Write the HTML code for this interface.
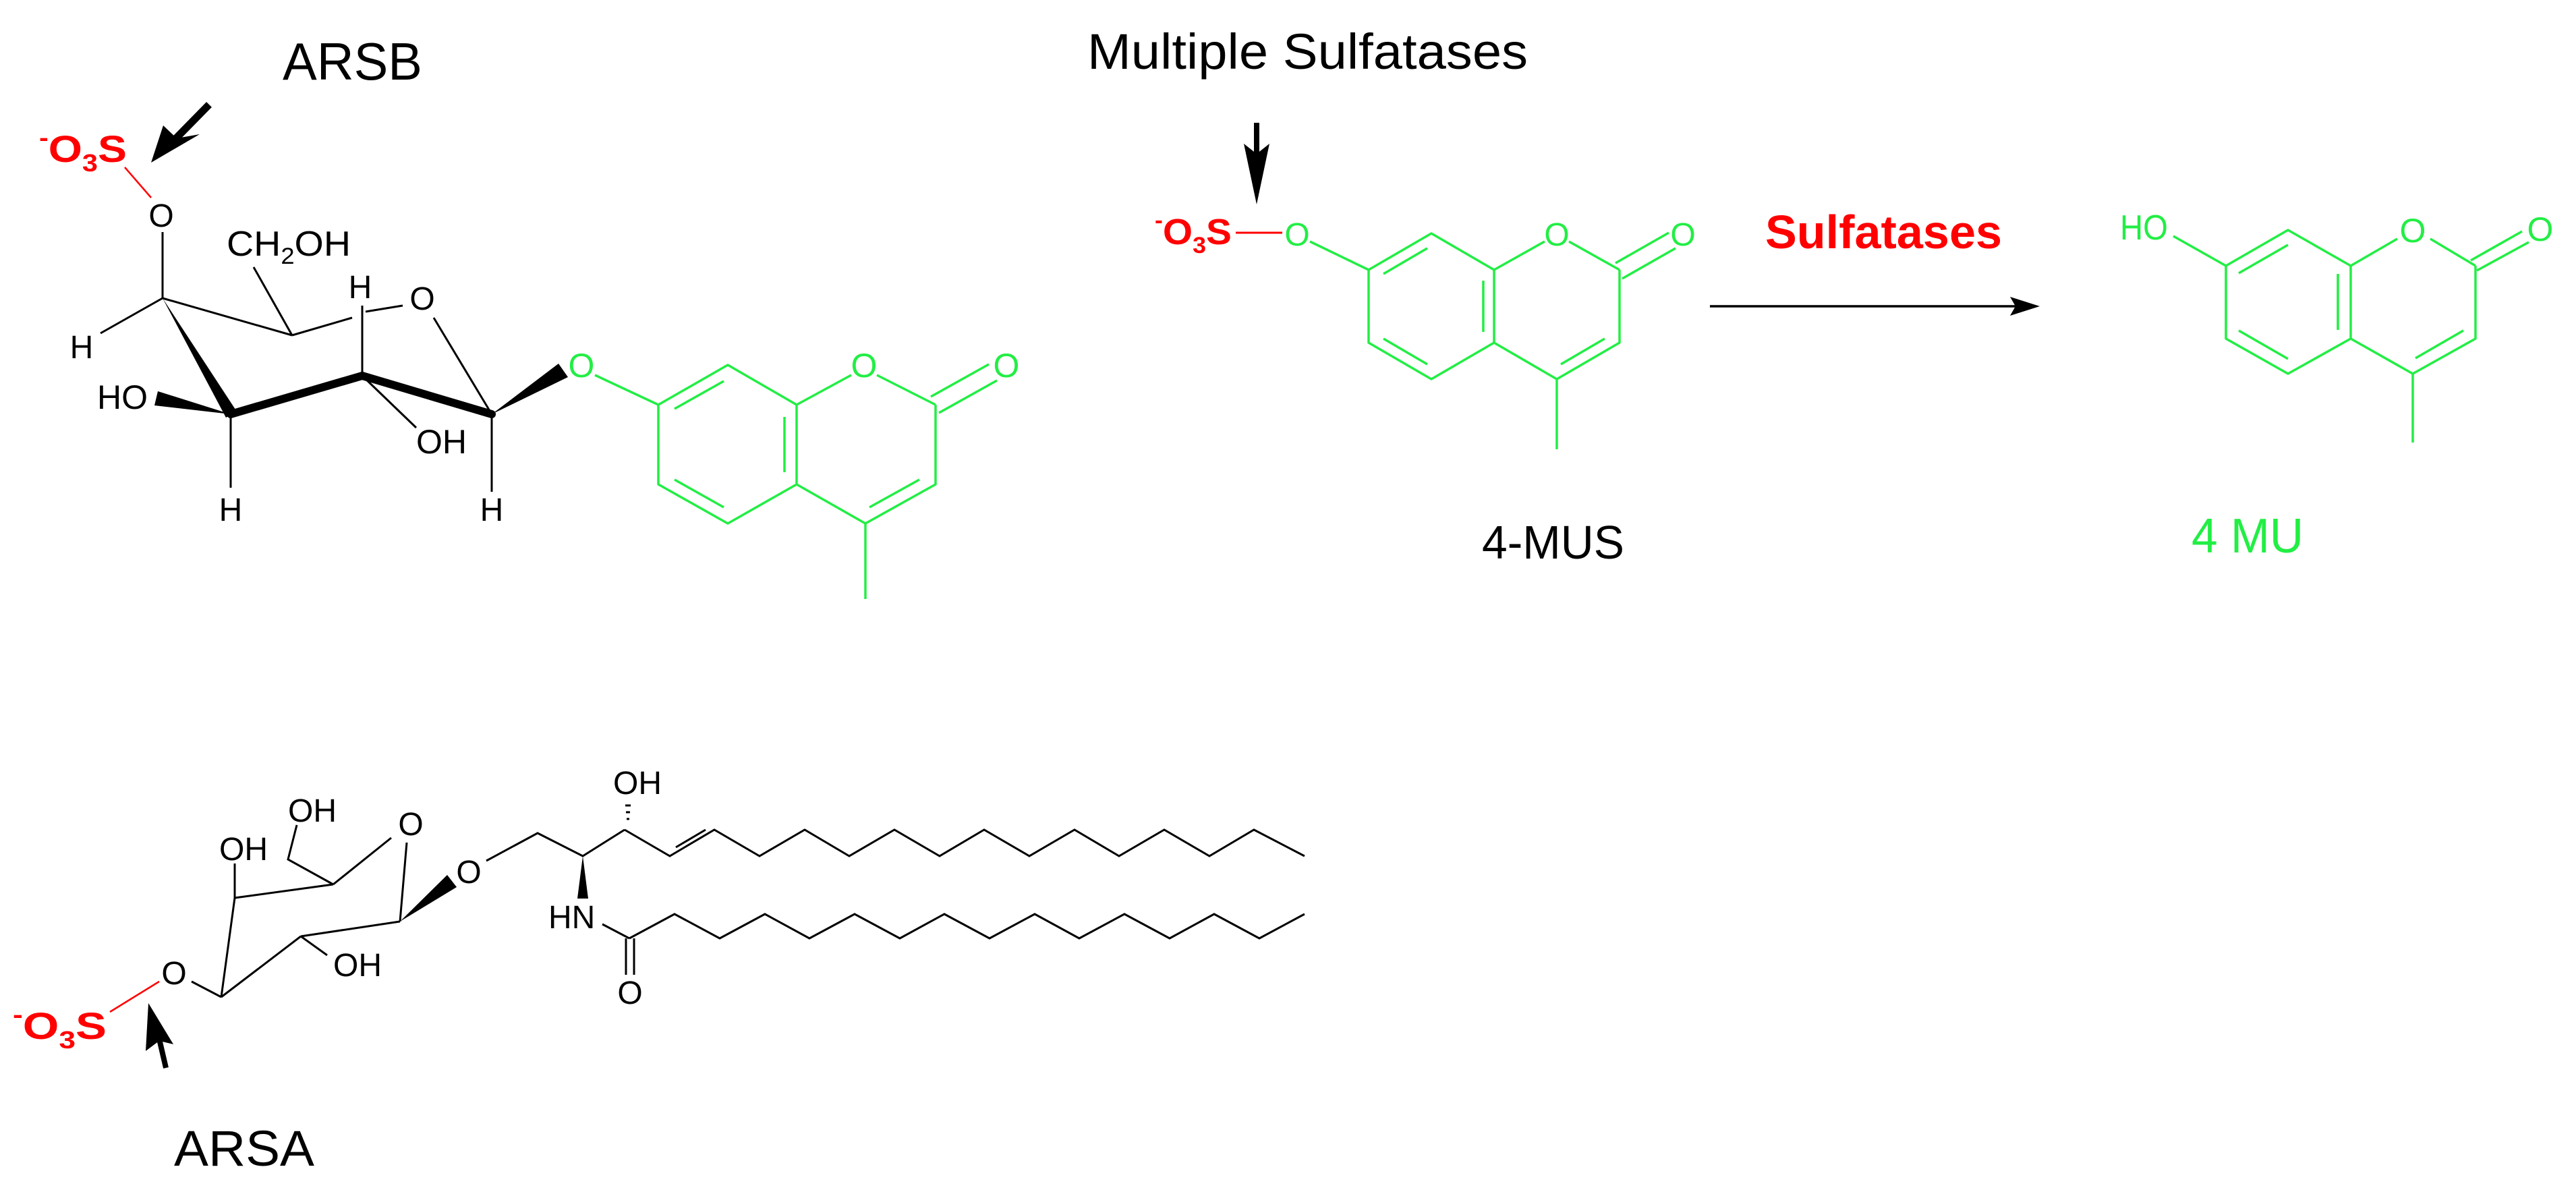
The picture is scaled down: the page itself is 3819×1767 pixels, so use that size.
<!DOCTYPE html>
<html><head><meta charset="utf-8"><style>
html,body{margin:0;padding:0;background:#fff;}
svg{display:block;}
text{font-family:"Liberation Sans",Arial,sans-serif;}
</style></head><body>
<svg width="3819" height="1767" viewBox="0 0 3819 1767" xmlns="http://www.w3.org/2000/svg">
<rect width="3819" height="1767" fill="#fff"/>

<!-- ===== ARSB molecule ===== -->
<text x="419" y="118" font-size="78" textLength="207" lengthAdjust="spacingAndGlyphs" fill="#000">ARSB</text>
<line x1="310" y1="155" x2="258" y2="208" stroke="#000" stroke-width="11"/>
<polygon points="224,241 242,186 262,205 296,199" fill="#000"/>
<text x="58" y="240" font-size="56" font-weight="bold" fill="#f00" textLength="130" lengthAdjust="spacingAndGlyphs"><tspan font-size="36" dy="-24">-</tspan><tspan dy="24">O</tspan><tspan font-size="36" dy="14">3</tspan><tspan dy="-14">S</tspan></text>
<line x1="185" y1="248" x2="224" y2="293" stroke="#f00" stroke-width="2.5"/>

<g fill="#000" font-size="48" text-anchor="middle">
<text x="239" y="336">O</text>
<text x="121" y="531">H</text>
<text x="534" y="442">H</text>
<text x="626" y="459">O</text>
<text x="729" y="772">H</text>
<text x="342" y="772">H</text>
</g>
<text x="336" y="379" font-size="52" textLength="184" lengthAdjust="spacingAndGlyphs" fill="#000">CH<tspan font-size="34" dy="12">2</tspan><tspan dy="-12">OH</tspan></text>
<text x="617" y="672" font-size="50" fill="#000">OH</text>
<text x="144" y="606" font-size="50" fill="#000">HO</text>

<g stroke="#000" stroke-width="3" fill="none">
<line x1="241" y1="344" x2="241" y2="442"/>
<line x1="241" y1="442" x2="149" y2="494"/>
<line x1="241" y1="442" x2="433" y2="497"/>
<line x1="376" y1="396" x2="433" y2="497"/>
<line x1="433" y1="497" x2="522" y2="471"/>
<line x1="542" y1="462" x2="597" y2="453"/>
<line x1="537" y1="453" x2="537" y2="557"/>
<line x1="643" y1="471" x2="729" y2="614"/>
<line x1="537" y1="557" x2="617" y2="634"/>
<line x1="729" y1="614" x2="729" y2="729"/>
<line x1="342" y1="617" x2="342" y2="723"/>
</g>
<polygon points="241,442 335,619 351,610" fill="#000"/>
<g stroke="#000" stroke-width="12" stroke-linecap="round">
<line x1="342" y1="614" x2="537" y2="557"/>
<line x1="537" y1="557" x2="729" y2="614"/>
</g>
<polygon points="729,614 828,539 842,559" fill="#000"/>
<polygon points="342,614 234,580 229,601" fill="#000"/>

<!-- coumarin 1 -->
<g fill="#22ee44" font-size="50" text-anchor="middle">
<text x="862" y="559">O</text>
<text x="1281" y="559">O</text>
<text x="1492" y="559">O</text>
</g>
<g stroke="#22ee44" stroke-width="3.5" fill="none" stroke-linejoin="round">
<line x1="882" y1="556" x2="976" y2="600"/>
<polygon points="976,600 1079,541 1181,600 1181,718 1079,776 976,718"/>
<line x1="1181" y1="600" x2="1262" y2="556"/>
<line x1="1300" y1="556" x2="1387" y2="600"/>
<polyline points="1387,600 1387,718 1283,776 1181,718"/>
<line x1="1283" y1="776" x2="1283" y2="888"/>
<line x1="1380" y1="588" x2="1466" y2="540"/>
<line x1="1392" y1="612" x2="1478" y2="564"/>
<line x1="1000" y1="606" x2="1073" y2="565"/>
<line x1="1163" y1="618" x2="1163" y2="700"/>
<line x1="1073" y1="752" x2="1000" y2="711"/>
<line x1="1363" y1="711" x2="1289" y2="752"/>
</g>

<!-- ===== 4-MUS ===== -->
<text x="1612" y="102" font-size="74" textLength="653" lengthAdjust="spacingAndGlyphs" fill="#000">Multiple Sulfatases</text>
<line x1="1863" y1="182" x2="1863" y2="230" stroke="#000" stroke-width="8"/>
<polygon points="1863,303 1844,213 1863,228 1882,213" fill="#000"/>
<text x="1712" y="362" font-size="54" font-weight="bold" fill="#f00" textLength="114" lengthAdjust="spacingAndGlyphs"><tspan font-size="34" dy="-24">-</tspan><tspan dy="24">O</tspan><tspan font-size="34" dy="13">3</tspan><tspan dy="-13">S</tspan></text>
<line x1="1832" y1="345" x2="1901" y2="345" stroke="#f00" stroke-width="3"/>
<g fill="#22ee44" font-size="48" text-anchor="middle">
<text x="1923" y="364">O</text>
<text x="2308" y="364">O</text>
<text x="2495" y="364">O</text>
</g>
<g stroke="#22ee44" stroke-width="3.5" fill="none" stroke-linejoin="round">
<line x1="1942" y1="358" x2="2029" y2="400"/>
<polygon points="2029,400 2122,346 2215,400 2215,508 2122,562 2029,508"/>
<line x1="2215" y1="400" x2="2290" y2="358"/>
<line x1="2326" y1="358" x2="2401" y2="400"/>
<polyline points="2401,400 2401,508 2308,562 2215,508"/>
<line x1="2308" y1="562" x2="2308" y2="666"/>
<line x1="2395" y1="390" x2="2474" y2="345"/>
<line x1="2405" y1="413" x2="2484" y2="368"/>
<line x1="2051" y1="406" x2="2116" y2="368"/>
<line x1="2199" y1="416" x2="2199" y2="492"/>
<line x1="2116" y1="540" x2="2051" y2="502"/>
<line x1="2379" y1="502" x2="2314" y2="540"/>
</g>
<text x="2197" y="828" font-size="70" textLength="211" lengthAdjust="spacingAndGlyphs" fill="#000">4-MUS</text>

<!-- reaction arrow -->
<text x="2617" y="368" font-size="70" font-weight="bold" textLength="351" lengthAdjust="spacingAndGlyphs" fill="#f00">Sulfatases</text>
<line x1="2535" y1="454" x2="2988" y2="454" stroke="#000" stroke-width="3.5"/>
<polygon points="3024,454 2980,440 2988,454 2980,468" fill="#000"/>

<!-- ===== 4 MU ===== -->
<text x="3143" y="355" font-size="52" textLength="71" lengthAdjust="spacingAndGlyphs" fill="#22ee44">HO</text>
<g fill="#22ee44" font-size="50" text-anchor="middle">
<text x="3577" y="359">O</text>
<text x="3766" y="357">O</text>
</g>
<g stroke="#22ee44" stroke-width="3.5" fill="none" stroke-linejoin="round">
<line x1="3222" y1="350" x2="3300" y2="394"/>
<polygon points="3300,394 3392,341 3485,394 3485,502 3392,554 3300,502"/>
<line x1="3485" y1="394" x2="3554" y2="354"/>
<line x1="3603" y1="354" x2="3670" y2="394"/>
<polyline points="3670,394 3670,502 3577,554 3485,502"/>
<line x1="3577" y1="554" x2="3577" y2="656"/>
<line x1="3663" y1="386" x2="3739" y2="343"/>
<line x1="3672" y1="401" x2="3749" y2="359"/>
<line x1="3319" y1="405" x2="3392" y2="363"/>
<line x1="3466" y1="406" x2="3466" y2="489"/>
<line x1="3319" y1="490" x2="3392" y2="532"/>
<line x1="3652" y1="490" x2="3581" y2="531"/>
</g>
<text x="3249" y="819" font-size="72" textLength="166" lengthAdjust="spacingAndGlyphs" fill="#22ee44">4 MU</text>

<!-- ===== ARSA molecule ===== -->
<text x="19" y="1540" font-size="56" font-weight="bold" fill="#f00" textLength="139" lengthAdjust="spacingAndGlyphs"><tspan font-size="36" dy="-24">-</tspan><tspan dy="24">O</tspan><tspan font-size="36" dy="14">3</tspan><tspan dy="-14">S</tspan></text>
<line x1="163" y1="1500" x2="236" y2="1455" stroke="#f00" stroke-width="2.5"/>
<line x1="246" y1="1583" x2="236" y2="1540" stroke="#000" stroke-width="8"/>
<polygon points="220,1487 216,1558 236,1543 257,1548" fill="#000"/>
<text x="258" y="1728" font-size="74" textLength="208" lengthAdjust="spacingAndGlyphs" fill="#000">ARSA</text>

<g fill="#000" font-size="48">
<text x="258" y="1459" text-anchor="middle">O</text>
<text x="427" y="1218">OH</text>
<text x="325" y="1275">OH</text>
<text x="609" y="1238" text-anchor="middle">O</text>
<text x="494" y="1447">OH</text>
<text x="695" y="1309" text-anchor="middle">O</text>
<text x="909" y="1177">OH</text>
<text x="813" y="1376">HN</text>
<text x="934" y="1488" text-anchor="middle">O</text>
</g>
<g stroke="#000" stroke-width="3" fill="none" stroke-linejoin="miter">
<line x1="284" y1="1455" x2="328" y2="1478"/>
<line x1="328" y1="1478" x2="348" y2="1331"/>
<line x1="348" y1="1331" x2="494" y2="1311"/>
<line x1="348" y1="1331" x2="348" y2="1280"/>
<polyline points="494,1311 427,1274 440,1223"/>
<line x1="494" y1="1311" x2="580" y2="1242"/>
<line x1="603" y1="1249" x2="593" y2="1366"/>
<line x1="593" y1="1366" x2="446" y2="1388"/>
<line x1="446" y1="1388" x2="328" y2="1478"/>
<line x1="446" y1="1388" x2="485" y2="1416"/>
<polyline points="721,1276 797,1235 864,1269 926,1230"/>
<line x1="893" y1="1370" x2="933" y2="1391"/>
<line x1="928" y1="1391" x2="928" y2="1445"/>
<line x1="940" y1="1391" x2="940" y2="1445"/>
<polyline points="926,1230 993,1269 1059,1230 1126,1269 1193,1230 1259,1269 1326,1230 1393,1269 1459,1230 1526,1269 1593,1230 1659,1269 1726,1230 1793,1269 1859,1230 1934,1269"/>
<line x1="1002" y1="1256" x2="1046" y2="1230"/>
<polyline points="933,1391 1000,1355 1067,1391 1134,1355 1200,1391 1267,1355 1334,1391 1400,1355 1467,1391 1534,1355 1600,1391 1667,1355 1734,1391 1800,1355 1867,1391 1934,1355"/>
</g>
<polygon points="593,1366 663,1297 677,1315" fill="#000"/>
<polygon points="864,1269 856,1332 872,1332" fill="#000"/>
<g stroke="#000" stroke-width="3">
<line x1="929" y1="1214" x2="933" y2="1214"/>
<line x1="928" y1="1204" x2="934" y2="1204"/>
<line x1="927" y1="1194" x2="935" y2="1194"/>
</g>
</svg>
</body></html>
